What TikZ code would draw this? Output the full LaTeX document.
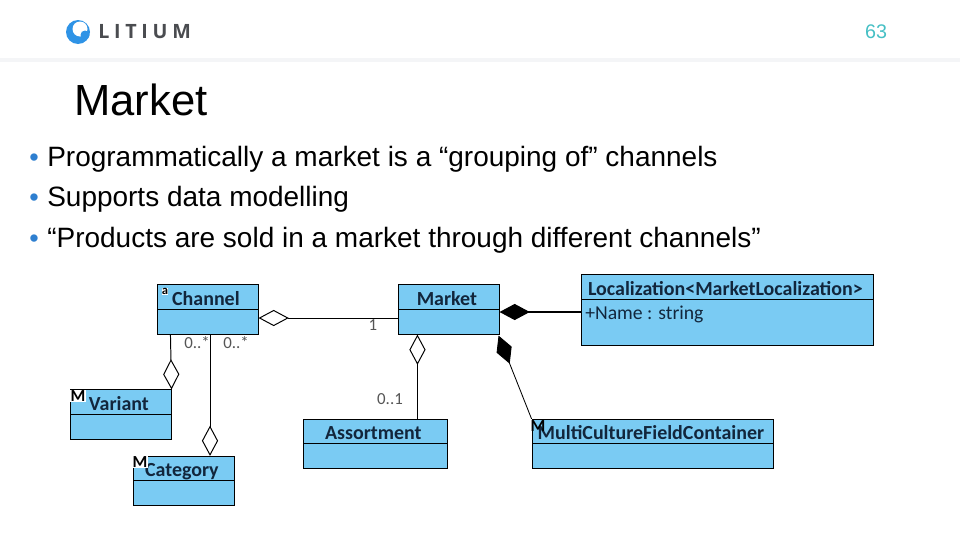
\documentclass[tikz,border=0pt]{standalone}
\usepackage{fontspec}
\setmainfont{Liberation Sans}
\newfontfamily\umlfont{Carlito}
\newfontfamily\logofont[LetterSpace=24]{Open Sans}
\usetikzlibrary{arrows.meta,positioning,calc}
\definecolor{umlblue}{HTML}{7ACBF3}
\definecolor{umltext}{HTML}{12263C}
\definecolor{multgray}{HTML}{555555}
\definecolor{rulegray}{HTML}{F4F5F7}
\definecolor{logoblue}{HTML}{2E93E6}
\definecolor{logogray}{HTML}{4A4C50}
\definecolor{pagenum}{HTML}{45BFC4}
\definecolor{bulletblue}{HTML}{2E7FD0}
\tikzset{
  classbox/.style={draw=black,line width=.7pt,fill=umlblue,inner sep=0pt,minimum height=35pt},
  classtitle/.style={draw=black,line width=.7pt,fill=umlblue,inner sep=0pt,text height=14.6pt,text depth=2.6pt,anchor=north,text=umltext,execute at end node=\kern3pt,font=\umlfont\fontsize{14.2}{16}\selectfont\bfseries},
  mult/.style={text=multgray,inner sep=0pt,font=\umlfont\fontsize{12}{14}\selectfont},
  tag/.style={fill=white,text=black,inner sep=.2pt,font=\umlfont\fontsize{12}{12}\selectfont\bfseries},
  bullettext/.style={anchor=base west,inner sep=0pt,font=\fontsize{19.9}{23}\selectfont},
  bulletdot/.style={anchor=base west,inner sep=0pt,text=bulletblue,font=\fontsize{19.2}{23}\selectfont},
  aggr/.style={line width=.7pt,-{Diamond[open,length=21.5pt,width=11.5pt,line width=.7pt]}},
  comp/.style={-{Diamond[fill=black,length=21.5pt,width=11.5pt]}}
}
\begin{document}
\begin{tikzpicture}[x=.025cm,y=-.025cm]
\useasboundingbox (0,0) rectangle (960,540);
% header
\fill[rulegray] (0,58) rectangle (960,62);
\fill[logoblue] (78,32) circle (12);
\fill[white] (80,29) circle (7.5);
\fill[logoblue] (85,35) circle (4.5);
\node[anchor=base west,inner sep=0pt,text=logogray,font=\logofont\fontsize{14}{16}\selectfont\bfseries] (logo) at (98,38) {LITIUM};
\node[inner sep=0pt,text=pagenum,font=\fontsize{14}{16}\selectfont] (page) at (876,32) {63};
\node[anchor=base west,inner sep=0pt,font=\fontsize{31}{36}\selectfont] (title) at (74,115) {Market};
% bullets
\node[bulletdot] (d1) at (29,166) {•};
\node[bullettext] (b1) at (47,166) {Programmatically a market is a “grouping of” channels};
\node[bulletdot] (d2) at (29,206) {•};
\node[bullettext] (b2) at (47,206) {Supports data modelling};
\node[bulletdot] (d3) at (29,247) {•};
\node[bullettext] (b3) at (47,247) {“Products are sold in a market through different channels”};
% classes
\node[classbox,minimum width=71.2pt] (channel) at (208,309.5) {};
\node[classbox,minimum width=71.2pt] (market) at (449,309.5) {};
\node[classbox,minimum width=207pt,minimum height=49.8pt] (local) at (727.5,310) {};
\node[classbox,minimum width=71.2pt] (variant) at (121,414.5) {};
\node[classbox,minimum width=71.2pt] (category) at (184,481) {};
\node[classbox,minimum width=103pt] (assort) at (375.5,444) {};
\node[classbox,minimum width=172pt] (multi) at (653,444) {};
\node[classtitle,minimum width=71.2pt] (channelt) at (channel.north) {Channel};
\node[classtitle,minimum width=71.2pt] (markett) at (market.north) {Market};
\node[classtitle,minimum width=207pt] (localt) at (local.north) {Localization<MarketLocalization>};
\node[classtitle,minimum width=71.2pt] (variantt) at (variant.north) {Variant};
\node[classtitle,minimum width=71.2pt] (categoryt) at (category.north) {Category};
\node[classtitle,minimum width=103pt] (assortt) at (assort.north) {Assortment};
\node[classtitle,minimum width=172pt] (multit) at (multi.north) {MultiCultureFieldContainer};
\node[anchor=north west,inner sep=0pt,text=umltext,font=\umlfont\fontsize{14}{16}\selectfont] (attr) at (585,306) {+Name : string};
% tags
\node[tag,font=\umlfont\fontsize{9}{9}\selectfont\bfseries] (tga) at (165,291.5) {a};
\node[tag] (tgv) at (78,396) {M};
\node[tag] (tgc) at (140,462) {M};
\node[tag,fill=none] (tgm) at (538,426) {M};
% connectors
\coordinate (catx) at ($(categoryt.north)+(26,0)$);
\coordinate (mktx) at ($(market.south west)+(19,0)$);
\draw[aggr] ($(market.west)+(0,8.5)$) -- ($(channel.east)+(0,8.5)$);
\draw[aggr] ($(channel.south west)+(13,0)$) -- (variant.north east);
\draw[aggr] (catx |- channel.south) -- (catx);
\draw[aggr] (mktx |- assort.north) -- (mktx);
\draw[comp,line width=1.3pt] ($(local.west)+(0,2)$) -- ($(market.east)+(0,2.5)$);
\draw[comp,line width=.6pt] (multi.north west) -- ($(market.south east)+(-1,1)$);
% multiplicities
\node[mult] (m1) at (373,325) {1};
\node[mult] (m2) at (197,343) {0..*};
\node[mult] (m3) at (236,343) {0..*};
\node[mult] (m4) at (390,399) {0..1};
\end{tikzpicture}
\end{document}
